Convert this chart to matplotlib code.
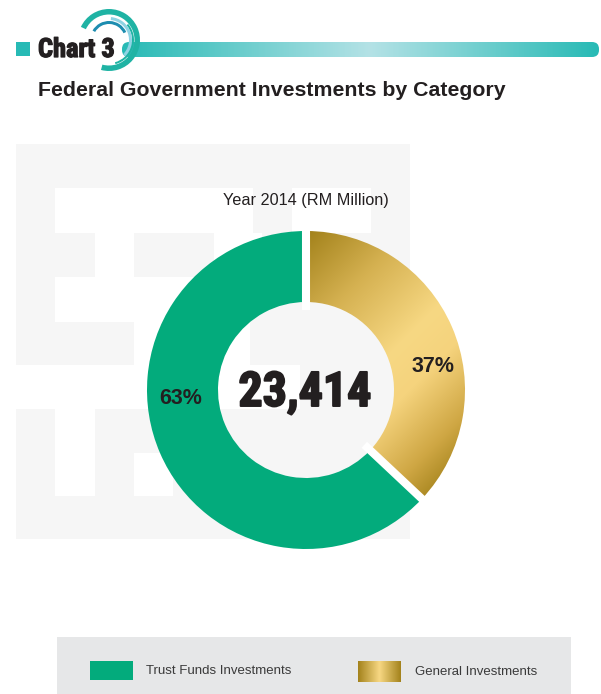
import os
import numpy as np
import matplotlib
matplotlib.use("Agg")
import matplotlib.pyplot as plt
import matplotlib.font_manager as fm
from matplotlib.patches import Rectangle, Wedge, FancyBboxPatch
from matplotlib.colors import to_rgb
import matplotlib.patheffects as pe

# ---- data ----
categories = ["Trust Funds Investments", "General Investments"]
shares = [63, 37]            # percent of total
total_rm_million = 23414
year = 2014
chart_number = 3
title = "Federal Government Investments by Category"

# ---- style ----
GREEN = "#03ab7c"
GOLD_DARK = "#a3821b"
GOLD_LIGHT = "#f7d883"
TEAL = "#27bab5"
INK = "#231f20"
BG_GREY = "#f6f6f6"
SANS = ["Liberation Sans", "DejaVu Sans"]


def condensed_bold_font():
    """Pick an installed narrow/condensed bold face for the display numerals."""
    best, best_score = None, -1
    for f in fm.fontManager.ttflist:
        name = f.name.lower()
        base = os.path.basename(f.fname).lower()
        narrow = any(k in name or k in base for k in ("narrow", "condensed")) or \
            f.stretch in ("condensed", "semi-condensed", "extra-condensed", "ultra-condensed")
        if not narrow or f.style != "normal":
            continue
        w = f.weight if isinstance(f.weight, int) else {"bold": 700, "normal": 400}.get(f.weight, 400)
        score = 0
        if w >= 700:
            score += 10
        if "liberation" in name or "liberation" in base:
            score += 5
        elif "roboto" in name or "roboto" in base:
            score += 4
        elif "dejavu" in name or "dejavu" in base:
            score += 2
        if score > best_score:
            best, best_score = f.fname, score
    if best is None:
        return fm.FontProperties(family=SANS, weight="bold"), False
    return fm.FontProperties(fname=best), True


NARROW_FP, HAVE_NARROW = condensed_bold_font()

W, H = 601, 694
fig = plt.figure(figsize=(W / 100, H / 100), dpi=100)
ax = fig.add_axes([0, 0, 1, 1])
ax.set_xlim(0, W)
ax.set_ylim(H, 0)
ax.set_aspect("auto")
ax.axis("off")


def lerp_colors(s, stops, cols):
    rgb = np.array([to_rgb(c) for c in cols])
    return np.stack([np.interp(s, stops, rgb[:, k]) for k in range(3)], axis=-1)


# ---- header ----
ax.add_patch(Rectangle((16, 42), 14, 14, color=TEAL, lw=0, zorder=2))

bar_x0, bar_x1, bar_y0, bar_y1 = 122, 599, 42, 57
bar = FancyBboxPatch((bar_x0, bar_y0), bar_x1 - bar_x0, bar_y1 - bar_y0,
                     boxstyle="round,pad=0,rounding_size=7",
                     fc="none", ec="none", zorder=2)
ax.add_patch(bar)
xs = np.linspace(bar_x0, bar_x1, 600)
bar_img = lerp_colors(xs, [bar_x0, 370, bar_x1], [TEAL, "#b4e2e6", TEAL])[None, :, :]
im = ax.imshow(bar_img, extent=(bar_x0, bar_x1, bar_y0, bar_y1), origin="lower",
               aspect="auto", zorder=2, interpolation="bilinear")
im.set_clip_path(bar)

# swirl emblem (visual angle a -> data angle -a because the y axis points down)
cx_l, cy_l = 109, 40
for r, w, a0, a1, col in [
    (31, 5.5, -105, 155, "#1fb3a4"),
    (25, 2.0, -75, 40, "#1fb3a4"),
    (23, 3.0, -45, 85, "#8fd3e3"),
    (19, 3.0, 25, 150, "#1d8db0"),
]:
    ax.add_patch(Wedge((cx_l, cy_l), r, -a1, -a0, width=w, color=col, lw=0, zorder=3))

head_fp = NARROW_FP.copy()
head_fp.set_size(19 if HAVE_NARROW else 14)
ax.text(38, 57, f"Chart {chart_number}", fontproperties=head_fp,
        color=INK, ha="left", va="baseline", zorder=4,
        path_effects=[pe.withStroke(linewidth=0.9, foreground=INK)])
ax.text(38, 96, title, family=SANS, weight="bold", fontsize=15.3, color=INK,
        ha="left", va="baseline", zorder=4)

# ---- background motif ----
ax.add_patch(Rectangle((16, 144), 394, 395, color=BG_GREY, lw=0, zorder=0))
for x0, y0, x1, y1 in [
    (55, 188, 253, 233), (292, 188, 371, 233),
    (95, 233, 134, 277), (214, 233, 262, 277),
    (55, 277, 250, 322), (134, 322, 250, 365),
    (16, 365, 300, 409),
    (55, 409, 95, 496), (134, 453, 173, 496),
]:
    ax.add_patch(Rectangle((x0, y0), x1 - x0, y1 - y0, color="white", lw=0, zorder=0.5))

# ---- donut ----
cx, cy, R, ring = 306, 390, 159, 71
trust_share, general_share = shares
gen_t1 = -90.0
gen_t2 = gen_t1 + 360.0 * general_share / sum(shares)
ax.add_patch(Wedge((cx, cy), R, gen_t2, gen_t1 + 360, width=ring,
                   color=GREEN, lw=0, zorder=2))
gold = Wedge((cx, cy), R, gen_t1, gen_t2, width=ring, fc="none", ec="none", zorder=2)
ax.add_patch(gold)
gx0, gx1, gy0, gy1 = 140, 480, 220, 560
GX, GY = np.meshgrid(np.linspace(gx0, gx1, 400), np.linspace(gy0, gy1, 400))
S = GX + GY
gold_img = lerp_colors(S, [540, 640, 745, 800, 880, 935],
                       [GOLD_DARK, "#d5b151", GOLD_LIGHT, "#f5d37d", "#cfa744", GOLD_DARK])
gim = ax.imshow(gold_img, extent=(gx0, gx1, gy0, gy1), origin="lower",
                aspect="auto", zorder=2, interpolation="bilinear")
gim.set_clip_path(gold)

# white separators between the two segments
for a in (gen_t1, gen_t2):
    t = np.deg2rad(a)
    ax.plot([cx + 80 * np.cos(t), cx + 170 * np.cos(t)],
            [cy + 80 * np.sin(t), cy + 170 * np.sin(t)],
            color="white", lw=5.8, solid_capstyle="butt", zorder=3)

ax.text(cx, 200, f"Year {year} (RM Million)", family=SANS, fontsize=11.7, color=INK,
        ha="center", va="center", zorder=4)
big_fp = NARROW_FP.copy()
big_fp.set_size(34.5 if HAVE_NARROW else 27)
ax.text(cx - 1, 406, f"{total_rm_million:,}", fontproperties=big_fp,
        color=INK, ha="center", va="baseline", zorder=4,
        path_effects=[pe.withStroke(linewidth=1.4, foreground=INK)])
ax.text(181, 398, f"{trust_share}%", family=SANS, weight="bold", fontsize=15.5,
        color=INK, ha="center", va="center", zorder=4)
ax.text(433, 366, f"{general_share}%", family=SANS, weight="bold", fontsize=15.5,
        color=INK, ha="center", va="center", zorder=4)

# ---- legend ----
ax.add_patch(Rectangle((57, 637), 514, 57, color="#e6e7e8", lw=0, zorder=1))
ax.add_patch(Rectangle((90, 661), 43, 19, color=GREEN, lw=0, zorder=2))
sw_x0, sw_x1 = 358, 401
sw = np.linspace(sw_x0, sw_x1, 200)
sw_img = lerp_colors(sw, [sw_x0, (sw_x0 + sw_x1) / 2, sw_x1],
                     [GOLD_DARK, GOLD_LIGHT, GOLD_DARK])[None, :, :]
ax.imshow(sw_img, extent=(sw_x0, sw_x1, 661, 682), origin="lower", aspect="auto",
          zorder=2, interpolation="bilinear")
ax.text(146, 671, categories[0], family=SANS, fontsize=9.5, color="#3a3a3a",
        ha="left", va="center", zorder=3)
ax.text(415, 672, categories[1], family=SANS, fontsize=9.5, color="#3a3a3a",
        ha="left", va="center", zorder=3)

ax.set_xlim(0, W)
ax.set_ylim(H, 0)
fig.savefig("out.png", dpi=100)
